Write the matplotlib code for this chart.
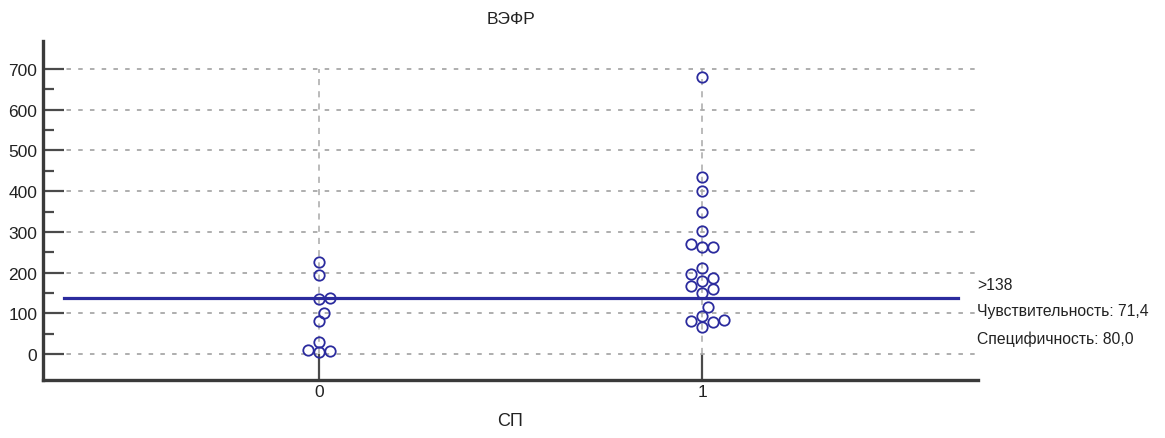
import numpy as np
import matplotlib.pyplot as plt
from matplotlib.ticker import FixedLocator

plt.rcParams['font.family'] = ['Liberation Sans', 'DejaVu Sans']

# данные
groups = [0, 1]
vefr_0 = [226, 194, 138, 136, 100, 82, 30, 8, 5, 10]
vefr_1 = [680, 435, 400, 349, 303, 270, 264, 262, 211, 196, 187, 180,
          167, 160, 150, 115, 93, 84, 81, 79, 66]
cutoff = 138
title = "ВЭФР"
xlabel = "СП"
info = [">138", "Чувствительность: 71,4", "Специфичность: 80,0"]

W, H = 1165, 439
fig = plt.figure(figsize=(W / 100, H / 100), dpi=100)
ax = fig.add_axes([43 / W, 58 / H, 935 / W, 339 / H])
xlim = (-0.72, 1.72)
ylim = (-64, 769)
ax.set_xlim(*xlim)
ax.set_ylim(*ylim)

# пикселей на единицу данных
px_x = 935 / (xlim[1] - xlim[0])
px_y = 339 / (ylim[1] - ylim[0])


def swarm(values, center, thr=9.0, step=5.5):
    # простой beeswarm в пикселях
    placed = []
    xs = []
    for v in values:
        yp = v * px_y
        k = 0
        while True:
            off = ((k + 1) // 2) * step * (1 if k % 2 else -1) if k else 0.0
            ok = all(np.hypot(off - po, yp - py) >= thr for po, py in placed)
            if ok:
                break
            k += 1
        placed.append((off, yp))
        xs.append(center + off / px_x)
    return xs


navy = (0.17, 0.17, 0.62)
for g, vals in zip(groups, [vefr_0, vefr_1]):
    vs = sorted(vals)
    xs = swarm(vs, g)
    ax.plot(xs, vs, 'o', ms=7.5, mfc='none', mec=navy, mew=1.3, zorder=4)

# сетка
ax.set_yticks(range(0, 701, 100))
ax.yaxis.set_minor_locator(FixedLocator(range(50, 700, 100)))
ax.grid(axis='y', color='#a8a8a8', linestyle=(0, (2.5, 4)), linewidth=1.3)
ax.vlines(groups, 0, 700, colors='#a8a8a8', linestyles=(0, (4, 4)), linewidth=1.1, zorder=1)

ax.axhline(cutoff, xmin=21 / 935, xmax=915 / 935, color=navy, linewidth=2.3, zorder=3)

for s in ['top', 'right']:
    ax.spines[s].set_visible(False)
for s in ['left', 'bottom']:
    ax.spines[s].set_linewidth(2.4)
    ax.spines[s].set_color('#3a3a3a')

ax.set_xticks(groups)
ax.tick_params(axis='y', which='major', direction='in', length=15, width=1.6,
               color='#4a4a4a', labelsize=12.5, pad=4, labelcolor='#222222')
ax.tick_params(axis='y', which='minor', direction='in', length=8, width=1.6, color='#4a4a4a')
ax.tick_params(axis='x', direction='in', length=19, width=1.6, color='#4a4a4a',
               labelsize=12.5, pad=3, labelcolor='#222222')

ax.set_title(title, fontsize=12.5, pad=13, color='#222222')
ax.set_xlabel(xlabel, fontsize=13, labelpad=9, color='#222222')

for i, t in enumerate(info):
    fig.text(977 / W, 1 - (285 + i * 27) / H, t, fontsize=11.3, va='center',
             ha='left', color='#222222')

fig.savefig("out.png", dpi=100)
